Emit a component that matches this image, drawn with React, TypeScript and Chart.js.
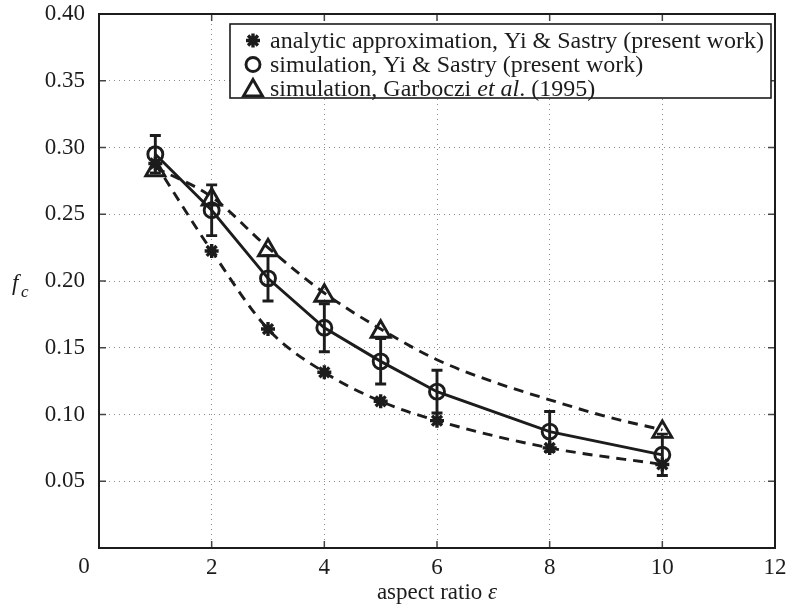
import React, { useEffect, useRef } from 'react';
import { Chart, registerables } from 'chart.js';

Chart.register(...registerables);

const xTickValues = [0, 2, 4, 6, 8, 10, 12];
const yTickValues = [0, 0.05, 0.1, 0.15, 0.2, 0.25, 0.3, 0.35, 0.4];

const analyticX = [1, 2, 3, 4, 5, 6, 8, 10];
const analyticY = [0.288, 0.2225, 0.164, 0.1316, 0.1099, 0.0954, 0.075, 0.0626];

const simX = [1, 2, 3, 4, 5, 6, 8, 10];
const simY = [0.295, 0.253, 0.202, 0.165, 0.1398, 0.1171, 0.0872, 0.0698];
const simErr = [0.014, 0.019, 0.017, 0.018, 0.017, 0.016, 0.015, 0.0155];

const garbX = [1, 2, 3, 4, 5, 10];
const garbY = [0.283, 0.261, 0.223, 0.189, 0.162, 0.087];

const garbCurveX = [1, 2, 3, 4, 5, 6, 7, 8, 9, 10];
const garbCurveY = [0.285, 0.263, 0.225, 0.191, 0.164, 0.141, 0.1245, 0.111, 0.0985, 0.0885];

const legendRows = [
  [{ t: 'analytic approximation, Yi & Sastry (present work)', i: false }],
  [{ t: 'simulation, Yi & Sastry (present work)', i: false }],
  [
    { t: 'simulation, Garboczi ', i: false },
    { t: 'et al', i: true },
    { t: '. (1995)', i: false },
  ],
];
const xTitle = [
  { t: 'aspect ratio ', i: false },
  { t: 'ε', i: true },
];

const INK = '#1c1c1c';
const FONT = '"Liberation Serif", "Times New Roman", serif';
const FS = 23;
const LFS = 24;
const LW = 2.9;

const pts = (xs: number[], ys: number[]) => xs.map((x, i) => ({ x, y: ys[i] }));

function drawStar(ctx: CanvasRenderingContext2D, x: number, y: number, r: number) {
  ctx.beginPath();
  for (let k = 0; k < 4; k++) {
    const a = (k * Math.PI) / 4;
    ctx.moveTo(x - Math.cos(a) * r, y - Math.sin(a) * r);
    ctx.lineTo(x + Math.cos(a) * r, y + Math.sin(a) * r);
  }
  ctx.stroke();
}

function drawRuns(ctx: CanvasRenderingContext2D, runs: { t: string; i: boolean }[], x: number, y: number, align: 'left' | 'center', size: number) {
  const font = (it: boolean) => `${it ? 'italic ' : ''}${size}px ${FONT}`;
  let total = 0;
  runs.forEach((r) => {
    ctx.font = font(r.i);
    total += ctx.measureText(r.t).width;
  });
  let cx = align === 'center' ? x - total / 2 : x;
  ctx.textAlign = 'left';
  runs.forEach((r) => {
    ctx.font = font(r.i);
    ctx.fillText(r.t, cx, y);
    cx += ctx.measureText(r.t).width;
  });
}

const overlay = {
  id: 'overlay',
  afterDatasetsDraw(chart: any) {
    const { ctx, scales } = chart;
    const xs = scales.x;
    const ys = scales.y;
    ctx.save();
    ctx.strokeStyle = INK;
    ctx.lineWidth = LW;
    ctx.setLineDash([]);
    simX.forEach((xv, i) => {
      const px = xs.getPixelForValue(xv);
      const top = ys.getPixelForValue(simY[i] + simErr[i]);
      const bot = ys.getPixelForValue(simY[i] - simErr[i]);
      ctx.beginPath();
      ctx.moveTo(px, top);
      ctx.lineTo(px, bot);
      ctx.moveTo(px - 5.5, top);
      ctx.lineTo(px + 5.5, top);
      ctx.moveTo(px - 5.5, bot);
      ctx.lineTo(px + 5.5, bot);
      ctx.stroke();
    });
    ctx.restore();
  },
  afterDraw(chart: any) {
    const { ctx, chartArea: ca, scales } = chart;
    const xs = scales.x;
    const ys = scales.y;
    ctx.save();
    ctx.setLineDash([]);
    // inward ticks
    ctx.strokeStyle = '#444';
    ctx.lineWidth = 1.5;
    ctx.beginPath();
    xTickValues.forEach((v) => {
      const px = xs.getPixelForValue(v);
      ctx.moveTo(px, ca.bottom);
      ctx.lineTo(px, ca.bottom - 7);
      ctx.moveTo(px, ca.top);
      ctx.lineTo(px, ca.top + 7);
    });
    yTickValues.forEach((v) => {
      const py = ys.getPixelForValue(v);
      ctx.moveTo(ca.left, py);
      ctx.lineTo(ca.left + 7, py);
      ctx.moveTo(ca.right, py);
      ctx.lineTo(ca.right - 7, py);
    });
    ctx.stroke();
    // axes box
    ctx.strokeStyle = INK;
    ctx.lineWidth = 2;
    ctx.strokeRect(ca.left, ca.top, ca.right - ca.left, ca.bottom - ca.top);

    // legend
    const lw = 541;
    const lh = 74;
    const lx = ca.right - 4 - lw;
    const ly = ca.top + 10;
    ctx.fillStyle = '#ffffff';
    ctx.fillRect(lx, ly, lw, lh);
    ctx.strokeStyle = INK;
    ctx.lineWidth = 1.6;
    ctx.strokeRect(lx, ly, lw, lh);
    const rowY = [ly + 16.5, ly + 40.5, ly + 64.5];
    const mx = lx + 23;
    // star
    ctx.lineWidth = 3.4;
    drawStar(ctx, mx, rowY[0], 7);
    // circle
    ctx.lineWidth = LW;
    ctx.beginPath();
    ctx.arc(mx, rowY[1], 7, 0, Math.PI * 2);
    ctx.stroke();
    // triangle
    const r = 11;
    ctx.beginPath();
    ctx.moveTo(mx, rowY[2] + 2 - r);
    ctx.lineTo(mx + Math.sin((2 * Math.PI) / 3) * r, rowY[2] + 2 + r / 2);
    ctx.lineTo(mx - Math.sin((2 * Math.PI) / 3) * r, rowY[2] + 2 + r / 2);
    ctx.closePath();
    ctx.stroke();

    ctx.fillStyle = INK;
    ctx.textBaseline = 'middle';
    legendRows.forEach((runs, k) => drawRuns(ctx, runs, lx + 40, rowY[k] + 1, 'left', LFS));

    // x title
    ctx.textBaseline = 'alphabetic';
    drawRuns(ctx, xTitle, (ca.left + ca.right) / 2, 599, 'center', FS);

    // y title f_c
    ctx.font = `italic ${FS}px ${FONT}`;
    ctx.textAlign = 'left';
    ctx.fillText('f', 12, 290);
    ctx.font = `italic 17px ${FONT}`;
    ctx.fillText('c', 21, 297);

    // origin label
    ctx.font = `${FS}px ${FONT}`;
    ctx.textAlign = 'center';
    ctx.fillText('0', xs.getPixelForValue(0) - 15, ca.bottom + 25);
    ctx.restore();
  },
};

export default function App() {
  const ref = useRef<HTMLCanvasElement | null>(null);
  useEffect(() => {
    if (!ref.current) return;
    const lineBase = {
      pointRadius: 0,
      borderColor: INK,
      borderWidth: LW,
      fill: false,
      showLine: true,
    };
    const chart = new Chart(ref.current, {
      type: 'scatter',
      data: {
        datasets: [
          {
            ...lineBase,
            data: pts(garbCurveX, garbCurveY),
            borderDash: [10, 7],
            cubicInterpolationMode: 'monotone',
            order: 3,
          },
          {
            ...lineBase,
            data: pts(analyticX, analyticY),
            borderDash: [10, 7],
            cubicInterpolationMode: 'monotone',
            order: 3,
          },
          {
            ...lineBase,
            data: pts(simX, simY),
            order: 2,
          },
          {
            data: pts(analyticX, analyticY),
            showLine: false,
            pointStyle: 'star',
            pointRadius: 7,
            pointBorderWidth: 3.4,
            pointBorderColor: INK,
            pointBackgroundColor: INK,
            order: 1,
          },
          {
            data: pts(simX, simY),
            showLine: false,
            pointStyle: 'circle',
            pointRadius: 7.5,
            pointBorderWidth: LW,
            pointBorderColor: INK,
            pointBackgroundColor: 'rgba(0,0,0,0)',
            order: 1,
          },
          {
            data: pts(garbX, garbY),
            showLine: false,
            pointStyle: 'triangle',
            pointRadius: 11,
            pointBorderWidth: LW,
            pointBorderColor: INK,
            pointBackgroundColor: 'rgba(0,0,0,0)',
            order: 1,
          },
        ],
      } as any,
      options: {
        animation: false,
        responsive: false,
        maintainAspectRatio: false,
        devicePixelRatio: 1,
        layout: { padding: { top: 14, right: 15, left: 0, bottom: 0 } },
        plugins: { legend: { display: false }, tooltip: { enabled: false } },
        scales: {
          x: {
            type: 'linear',
            min: 0,
            max: 12,
            afterBuildTicks: (s: any) => {
              s.ticks = xTickValues.map((v) => ({ value: v }));
            },
            afterFit: (s: any) => {
              s.height = 60;
              s.paddingLeft = 0;
              s.paddingRight = 0;
            },
            grid: { color: '#8a8a8a', lineWidth: 1, drawTicks: false },
            border: { display: false, dash: [1, 4] },
            ticks: {
              color: INK,
              font: { family: FONT, size: FS },
              padding: 6,
              maxRotation: 0,
              autoSkip: false,
              callback: (v: any) => (v === 0 ? '' : String(v)),
            },
          },
          y: {
            type: 'linear',
            min: 0,
            max: 0.4,
            afterBuildTicks: (s: any) => {
              s.ticks = yTickValues.map((v) => ({ value: v }));
            },
            afterFit: (s: any) => {
              s.width = 99;
              s.paddingTop = 0;
              s.paddingBottom = 0;
            },
            grid: { color: '#8a8a8a', lineWidth: 1, drawTicks: false },
            border: { display: false, dash: [1, 4] },
            ticks: {
              color: INK,
              font: { family: FONT, size: FS },
              padding: 14,
              autoSkip: false,
              callback: (v: any) => (v === 0 ? '' : Number(v).toFixed(2)),
            },
          },
        },
      } as any,
      plugins: [overlay],
    });
    return () => chart.destroy();
  }, []);
  return (
    <div style={{ position: 'fixed', left: 0, top: 0, width: 790, height: 608, background: '#fff' }}>
      <canvas ref={ref} width={790} height={608} style={{ display: 'block', width: 790, height: 608 }} />
    </div>
  );
}
